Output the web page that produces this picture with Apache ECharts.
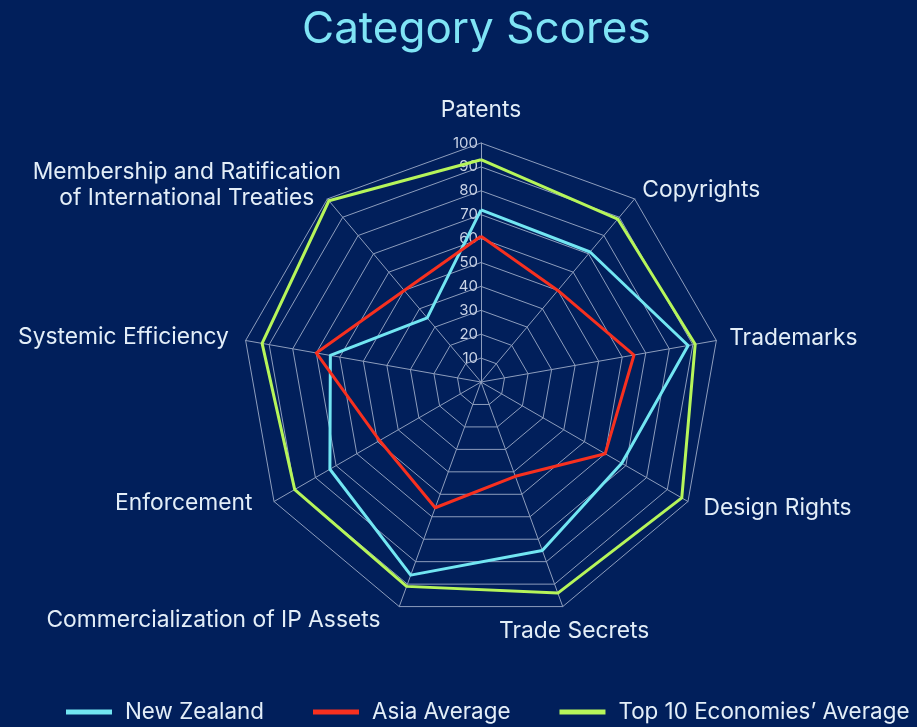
<!DOCTYPE html>
<html>
<head>
<meta charset="utf-8">
<script src="https://cdn.jsdelivr.net/npm/echarts@6/dist/echarts.min.js"></script>
<style>
  html, body { margin: 0; padding: 0; background: #011f5b; }
  #chart { width: 917px; height: 727px; }
</style>
</head>
<body>
<div id="chart"></div>
<script>
// indicators, counter-clockwise from the top (ECharts radar order)
var categories = [
    'Patents',
    'Membership and Ratification\nof International Treaties',
    'Systemic Efficiency',
    'Enforcement',
    'Commercialization of IP Assets',
    'Trade Secrets',
    'Design Rights',
    'Trademarks',
    'Copyrights'
];
var newZealand = [72, 35, 64, 73, 86, 75, 68, 88, 71];
var asiaAverage = [61, 50, 70, 49, 56, 42, 60, 65, 50];
var top10Average = [93, 99, 93, 90, 91, 94, 97, 91, 89];
var seriesNames = ['New Zealand', 'Asia Average', 'Top 10 Economies\u2019 Average'];

// label placement per indicator: gap from the outer ring, alignment, padding nudge
var nameLayout = [
    { gap: 33, align: 'center', pad: [0, 0, 0, 0] },
    { gap: 18, align: 'center', pad: [0, 258, 0, 0] },
    { gap: 17, align: 'right', pad: [0, 0, 0, 0] },
    { gap: 3, align: 'right', pad: [0, 19, 0, 0] },
    { gap: 14, align: 'right', pad: [0, 14, 0, 0] },
    { gap: 26, align: 'center', pad: [0, 0, 0, 5] },
    { gap: 18, align: 'left', pad: [0, 0, 4, 0] },
    { gap: 13, align: 'left', pad: [0, 0, 0, 0] },
    { gap: 12, align: 'left', pad: [0, 0, 0, 0] }
];

var chart = echarts.init(document.getElementById('chart'));

var indicator = categories.map(function (name, i) {
    var item = {
        name: name,
        min: 0,
        max: 100,
        nameGap: nameLayout[i].gap,
        nameTextStyle: { align: nameLayout[i].align, verticalAlign: 'middle', padding: nameLayout[i].pad }
    };
    // only the top axis shows its scale
    if (i === 0) {
        item.axisLabel = { show: true };
    }
    return item;
});

var option = {
    backgroundColor: '#011f5b',
    textStyle: { fontFamily: 'Inter' },
    title: {
        text: 'Category Scores',
        left: 297,
        top: 3,
        textStyle: { color: '#7fe4f5', fontSize: 44, fontWeight: 'normal', fontFamily: 'Inter' }
    },
    legend: {
        bottom: 4,
        left: 66,
        width: 851,
        padding: 0,
        icon: 'rect',
        itemWidth: 46,
        itemHeight: 5,
        itemGap: 49,
        textStyle: { color: '#e3eef8', fontSize: 22.4, fontFamily: 'Inter', padding: [0, 0, 0, 8] },
        data: seriesNames
    },
    radar: {
        center: [481, 382],
        radius: 239,
        startAngle: 90,
        splitNumber: 10,
        shape: 'polygon',
        indicator: indicator,
        axisName: {
            color: '#e3eef8',
            fontSize: 22.8,
            fontFamily: 'Inter',
            formatter: function (name) {
                return '{n|' + name.split('\n').join('}\n{n|') + '}';
            },
            rich: {
                n: { color: '#e3eef8', fontSize: 22.8, fontFamily: 'Inter', lineHeight: 26, align: 'center' }
            }
        },
        axisLine: { lineStyle: { color: '#8d9dbd', width: 1 } },
        splitLine: { lineStyle: { color: '#8d9dbd', width: 1 } },
        splitArea: { show: false },
        axisTick: { show: false },
        axisLabel: { show: false, showMinLabel: false, color: '#c9d3e6', fontSize: 15, margin: 3 }
    },
    series: [{
        type: 'radar',
        symbol: 'none',
        data: [
            { name: seriesNames[0], value: newZealand, lineStyle: { color: '#72e6f2', width: 3 }, itemStyle: { color: '#72e6f2' } },
            { name: seriesNames[1], value: asiaAverage, lineStyle: { color: '#f7301f', width: 3 }, itemStyle: { color: '#f7301f' } },
            { name: seriesNames[2], value: top10Average, lineStyle: { color: '#b6f55a', width: 3 }, itemStyle: { color: '#b6f55a' } }
        ]
    }]
};
chart.setOption(option);
</script>
</body>
</html>
